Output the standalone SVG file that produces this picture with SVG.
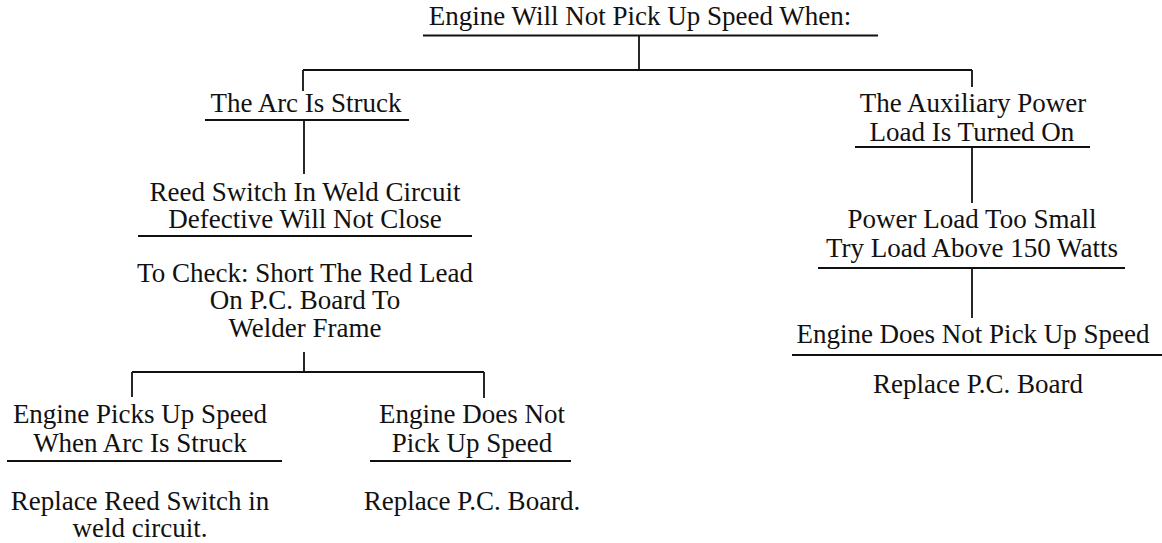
<svg xmlns="http://www.w3.org/2000/svg" width="1162" height="543" viewBox="0 0 1162 543">
  <style>
    text { font-family: "Liberation Serif", "Times New Roman", serif; font-size: 27px; fill: #111; text-anchor: middle; }
    .ln { stroke: #111; stroke-width: 1.8; fill: none; }
  </style>
  <rect width="1162" height="543" fill="#fff"/>

  <!-- connectors: underlines and branch lines -->
  <g id="connectors" class="ln">
    <!-- title drop and first split -->
    <path d="M639,35.5 V70 M303,70 H972 M303,70 V91 M972,70 V87"/>
    <!-- left column -->
    <path d="M304,120 V174"/>
    <path d="M304,352 V372 M132,372 H484 M132,372 V397 M484,372 V398"/>
    <!-- right column -->
    <path d="M972,147 V203 M972,268 V318"/>
  </g>

  <g id="title">
    <text x="640" y="25">Engine Will Not Pick Up Speed When:</text>
    <line class="ln" x1="423" y1="35.5" x2="878" y2="35.5"/>
  </g>

  <g id="arc-struck">
    <text x="306" y="112">The Arc Is Struck</text>
    <line class="ln" x1="205" y1="120" x2="409" y2="120"/>
  </g>

  <g id="reed-switch">
    <text x="305" y="201">Reed Switch In Weld Circuit</text>
    <text x="305" y="228">Defective Will Not Close</text>
    <line class="ln" x1="138" y1="236" x2="472" y2="236"/>
  </g>

  <g id="to-check">
    <text x="305" y="282">To Check: Short The Red Lead</text>
    <text x="305" y="309">On P.C. Board To</text>
    <text x="305" y="337">Welder Frame</text>
  </g>

  <g id="picks-up">
    <text x="140" y="423">Engine Picks Up Speed</text>
    <text x="140" y="452">When Arc Is Struck</text>
    <line class="ln" x1="7" y1="461" x2="282" y2="461"/>
  </g>

  <g id="replace-reed">
    <text x="140" y="510">Replace Reed Switch in</text>
    <text x="140" y="537">weld circuit.</text>
  </g>

  <g id="does-not-left">
    <text x="472" y="423">Engine Does Not</text>
    <text x="472" y="452">Pick Up Speed</text>
    <line class="ln" x1="370" y1="461" x2="571" y2="461"/>
  </g>

  <g id="replace-board-left">
    <text x="472" y="510">Replace P.C. Board.</text>
  </g>

  <g id="aux-load">
    <text x="973" y="112">The Auxiliary Power</text>
    <text x="972" y="141">Load Is Turned On</text>
    <line class="ln" x1="855" y1="147" x2="1090" y2="147"/>
  </g>

  <g id="load-too-small">
    <text x="972" y="228">Power Load Too Small</text>
    <text x="972" y="257">Try Load Above 150 Watts</text>
    <line class="ln" x1="818" y1="268" x2="1125" y2="268"/>
  </g>

  <g id="does-not-right">
    <text x="973" y="343">Engine Does Not Pick Up Speed</text>
    <line class="ln" x1="792" y1="355" x2="1162" y2="355"/>
  </g>

  <g id="replace-board-right">
    <text x="978" y="393">Replace P.C. Board</text>
  </g>
</svg>
